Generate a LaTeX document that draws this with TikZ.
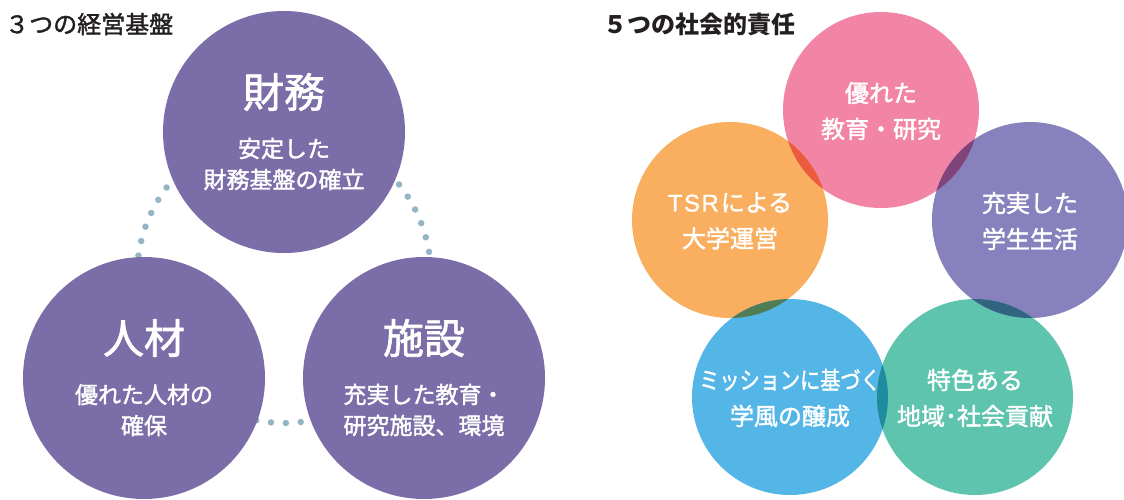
\documentclass[tikz,border=0pt]{standalone}
\usepackage{fontspec}
\setmainfont{Noto Sans CJK JP}
\newfontfamily\medfont{Noto Sans CJK JP}[FakeBold=1.6]
\newfontfamily\latinfont{Liberation Sans}[FakeBold=1.2]
\usepackage{graphicx}
\definecolor{leftpurple}{RGB}{123,110,168}
\definecolor{dotcol}{RGB}{150,181,196}
\definecolor{headcol}{RGB}{35,31,32}
\definecolor{pinkc}{RGB}{242,132,165}
\definecolor{orangec}{RGB}{249,175,95}
\definecolor{purplec}{RGB}{135,129,189}
\definecolor{bluec}{RGB}{83,182,231}
\definecolor{greenc}{RGB}{95,196,174}
\definecolor{pinkorange}{RGB}{236,91,61}
\definecolor{pinkpurple}{RGB}{128,67,122}
\definecolor{orangeblue}{RGB}{81,125,86}
\definecolor{bluegreen}{RGB}{31,140,158}
\definecolor{purplegreen}{RGB}{50,99,129}
\tikzset{
  bigcirc/.style={circle, inner sep=0pt, minimum size=242pt, fill=leftpurple},
  smallcirc/.style={circle, inner sep=0pt, minimum size=196pt},
  bigtitle/.style={text=white, font=\medfont\fontsize{41}{41}\selectfont, inner sep=0pt},
  subtext/.style={text=white, font=\medfont\fontsize{23}{31}\selectfont, align=center, inner sep=0pt},
  rsubtext/.style={text=white, font=\medfont\fontsize{24}{36}\selectfont, align=center, inner sep=0pt},
  headtext/.style={text=headcol, font=\medfont\fontsize{24}{24}\selectfont, anchor=west, inner sep=0pt},
  dotring/.style={draw=dotcol, line width=6.5pt, line cap=round, dash pattern=on 0pt off 14.897pt, dash phase=5.5pt}
}
\begin{document}
\begin{tikzpicture}[x=1pt,y=-1pt]
\useasboundingbox (0,0) rectangle (1124,499);
% ---------- left: 3 foundations ----------
\node[headtext] (h1) at (5,24) {３つの経営基盤};
\coordinate (ring) at (284,276);
\draw[dotring] (ring) circle[radius=147pt];
\node[bigcirc] (fin) at (284,132) {};
\node[bigcirc] (hr) at (144,378) {};
\node[bigcirc] (fac) at (424,378) {};
\node[bigtitle] (finT) at ([yshift=40pt]fin.center) {財務};
\node[subtext] (finS) at ([yshift=-32pt]fin.center) {安定した\\財務基盤の確立};
\node[bigtitle] (hrT) at ([yshift=40pt]hr.center) {人材};
\node[subtext] (hrS) at ([yshift=-32pt]hr.center) {優れた人材の\\確保};
\node[bigtitle] (facT) at ([yshift=40pt]fac.center) {施設};
\node[subtext] (facS) at ([yshift=-32pt]fac.center) {充実した教育・\\研究施設、環境};
% ---------- right: 5 social responsibilities ----------
\node[headtext] (h2) at (603,24) {\normalfont\fontsize{24}{24}\selectfont\bfseries ５つの社会的責任};
\node[smallcirc, fill=pinkc] (edu) at (881,110) {};
\node[smallcirc, fill=orangec] (tsr) at (730,220) {};
\node[smallcirc, fill=purplec] (life) at (1030,220) {};
\node[smallcirc, fill=bluec] (mis) at (790,397) {};
\node[smallcirc, fill=greenc] (com) at (975,397) {};
\begin{scope}
  \clip (edu.center) circle[radius=98pt];
  \fill[pinkorange] (tsr.center) circle[radius=98pt];
  \fill[pinkpurple] (life.center) circle[radius=98pt];
\end{scope}
\begin{scope}
  \clip (mis.center) circle[radius=98pt];
  \fill[orangeblue] (tsr.center) circle[radius=98pt];
  \fill[bluegreen] (com.center) circle[radius=98pt];
\end{scope}
\begin{scope}
  \clip (com.center) circle[radius=98pt];
  \fill[purplegreen] (life.center) circle[radius=98pt];
\end{scope}
\node[rsubtext] (eduT) at ([yshift=-1pt]edu.center) {優れた\\教育・研究};
\node[rsubtext] (tsrT) at ([yshift=-1pt]tsr.center) {{\latinfont T\kern1.5pt S\kern1.5pt R\kern2pt}による\\大学運営};
\node[rsubtext] (lifeT) at ([yshift=-1pt]life.center) {充実した\\学生生活};
\node[rsubtext] (misT) at ([yshift=-1pt]mis.center) {\scalebox{0.84}[1]{ミッションに基づく}\\学風の醸成};
\node[rsubtext] (comT) at ([yshift=-1pt]com.center) {特色ある\\地域･社会貢献};
\end{tikzpicture}
\end{document}
